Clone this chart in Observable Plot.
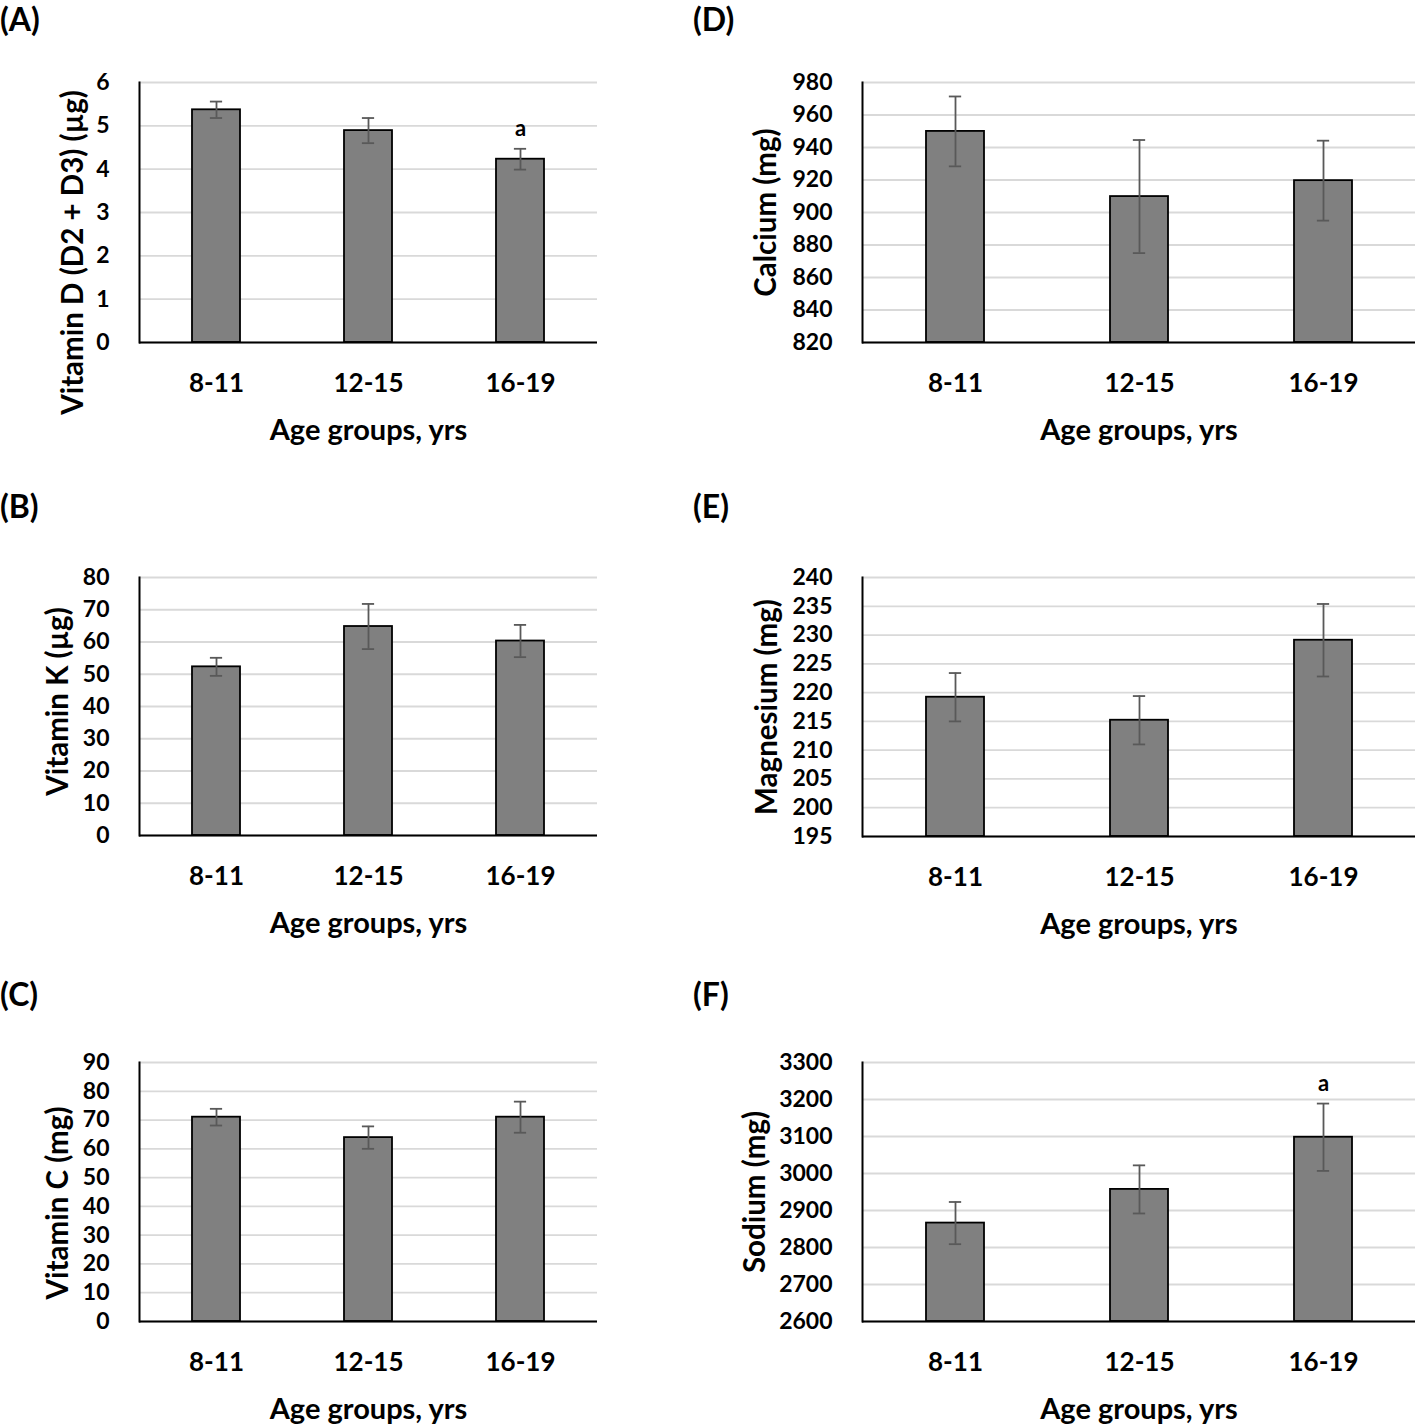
<!DOCTYPE html>
<html><head><meta charset="utf-8">
<script src="https://cdn.jsdelivr.net/npm/d3@7"></script>
<script src="https://cdn.jsdelivr.net/npm/@observablehq/plot@0.6"></script>
<style>
body{margin:0;background:#fff;}
#fig{position:relative;width:1418px;height:1425px;background:#fff;}
.panel{position:absolute;}
.lab{position:absolute;font:700 32px Lato,sans-serif;line-height:1;color:#000;}
</style></head><body><div id="fig"></div>
<script>
// ---- data ----
const groups = ["8-11", "12-15", "16-19"];
const xTitle = "Age groups, yrs";

const vitaminD = [5.37, 4.89, 4.23];
const vitaminDErr = [0.19, 0.29, 0.24];
const vitaminDNotes = ["", "", "a"];

const vitaminK = [52.3, 64.8, 60.3];
const vitaminKErr = [2.8, 7.0, 5.0];

const vitaminC = [71.0, 63.9, 71.0];
const vitaminCErr = [2.9, 3.9, 5.4];

const calcium = [949.9, 909.8, 919.6];
const calciumErr = [21.5, 34.8, 24.6];

const magnesium = [219.2, 215.2, 229.1];
const magnesiumErr = [4.2, 4.2, 6.3];

const sodium = [2866, 2957, 3098];
const sodiumErr = [57, 65, 91];
const sodiumNotes = ["", "", "a"];

// ---- layout ----
const cols = [
  {svgLeft: 0, svgWidth: 610, axisX: 139, plotRight: 597},
  {svgLeft: 690, svgWidth: 728, axisX: 862, plotRight: 1415}
];
const panels = [
  {label: "(A)", labelX: 0, labelY: 3, values: vitaminD, errors: vitaminDErr, notes: vitaminDNotes, title: "Vitamin D (D2 + D3) (µg)", domain: [0, 6], step: 1, col: 0, top: 82, bottom: 342, titleX: 73, titleShift: 40},
  {label: "(B)", labelX: 0, labelY: 490, values: vitaminK, errors: vitaminKErr, title: "Vitamin K (µg)", domain: [0, 80], step: 10, col: 0, top: 577, bottom: 835, titleX: 58, titleShift: -5},
  {label: "(C)", labelX: 0, labelY: 978, values: vitaminC, errors: vitaminCErr, title: "Vitamin C (mg)", domain: [0, 90], step: 10, col: 0, top: 1062, bottom: 1321, titleX: 58, titleShift: 11},
  {label: "(D)", labelX: 693, labelY: 3, values: calcium, errors: calciumErr, title: "Calcium (mg)", domain: [820, 980], step: 20, col: 1, top: 82, bottom: 342, titleX: 766, titleShift: 0},
  {label: "(E)", labelX: 693, labelY: 490, values: magnesium, errors: magnesiumErr, title: "Magnesium (mg)", domain: [195, 240], step: 5, col: 1, top: 577, bottom: 836, titleX: 767, titleShift: 0},
  {label: "(F)", labelX: 693, labelY: 978, values: sodium, errors: sodiumErr, notes: sodiumNotes, title: "Sodium (mg)", domain: [2600, 3300], step: 100, col: 1, top: 1062, bottom: 1321, titleX: 755, titleShift: 0}
];

const fig = document.getElementById("fig");
const padInner = 0.687;
const capWidth = 12;

for (const p of panels) {
  const c = cols[p.col];
  const svgTop = p.top - 60;
  const height = p.bottom + 110 - svgTop;
  const marginLeft = c.axisX - c.svgLeft;
  const marginRight = c.svgLeft + c.svgWidth - c.plotRight;
  const plotW = c.plotRight - c.axisX;
  const bw = plotW / groups.length * (1 - padInner);
  const inset = (bw - capWidth) / 2;
  const rows = groups.map((g, i) => ({group: g, v: p.values[i], e: p.errors[i], note: p.notes ? p.notes[i] : ""}));
  const ticks = d3.range(p.domain[0], p.domain[1] + p.step / 2, p.step);
  const y0 = p.domain[0];

  const chart = Plot.plot({
    width: c.svgWidth,
    height,
    marginTop: 60,
    marginBottom: 110,
    marginLeft,
    marginRight,
    style: {fontFamily: "Lato, sans-serif", fontWeight: 700, color: "#000", background: "transparent", overflow: "visible"},
    x: {type: "band", domain: groups, paddingInner: padInner, paddingOuter: padInner / 2, axis: null},
    y: {domain: p.domain, axis: null},
    marks: [
      Plot.gridY(ticks, {stroke: "#d9d9d9", strokeOpacity: 1, strokeWidth: 1.8}),
      Plot.barY(rows, {x: "group", y1: () => y0, y2: "v", fill: "#808080", stroke: "#000", strokeWidth: 1.8}),
      Plot.ruleX(rows, {x: "group", y1: d => d.v - d.e, y2: d => d.v + d.e, stroke: "#595959", strokeWidth: 1.8}),
      Plot.tickY(rows, {x: "group", y: d => d.v + d.e, insetLeft: inset, insetRight: inset, stroke: "#595959", strokeWidth: 1.8}),
      Plot.tickY(rows, {x: "group", y: d => d.v - d.e, insetLeft: inset, insetRight: inset, stroke: "#595959", strokeWidth: 1.8}),
      Plot.ruleY([y0], {stroke: "#000", strokeWidth: 2}),
      Plot.frame({anchor: "left", stroke: "#000", strokeWidth: 2}),
      Plot.axisY({ticks, tickSize: 0, tickPadding: 30, fontSize: 23, fontWeight: 700, label: null, tickFormat: d3.format("d")}),
      Plot.axisX({tickSize: 0, tickPadding: 31, fontSize: 26, fontWeight: 700, label: null}),
      Plot.text([xTitle], {text: d => d, frameAnchor: "bottom", lineAnchor: "middle", textAnchor: "middle", dy: 88, fontSize: 29, fontWeight: 700}),
      Plot.text([p.title], {text: d => d, frameAnchor: "left", textAnchor: "middle", lineAnchor: "middle", rotate: -90, dx: -(c.axisX - p.titleX), dy: p.titleShift, fontSize: 29.5, fontWeight: 700}),
      Plot.text(rows.filter(d => d.note), {x: "group", y: d => d.v + d.e, text: "note", dy: -20, fontSize: 22, fontWeight: 700})
    ]
  });
  chart.classList.add("panel");
  chart.style.left = c.svgLeft + "px";
  chart.style.top = svgTop + "px";
  fig.appendChild(chart);

  const lab = document.createElement("div");
  lab.className = "lab";
  lab.textContent = p.label;
  lab.style.left = p.labelX + "px";
  lab.style.top = p.labelY + "px";
  fig.appendChild(lab);
}
</script></body></html>
